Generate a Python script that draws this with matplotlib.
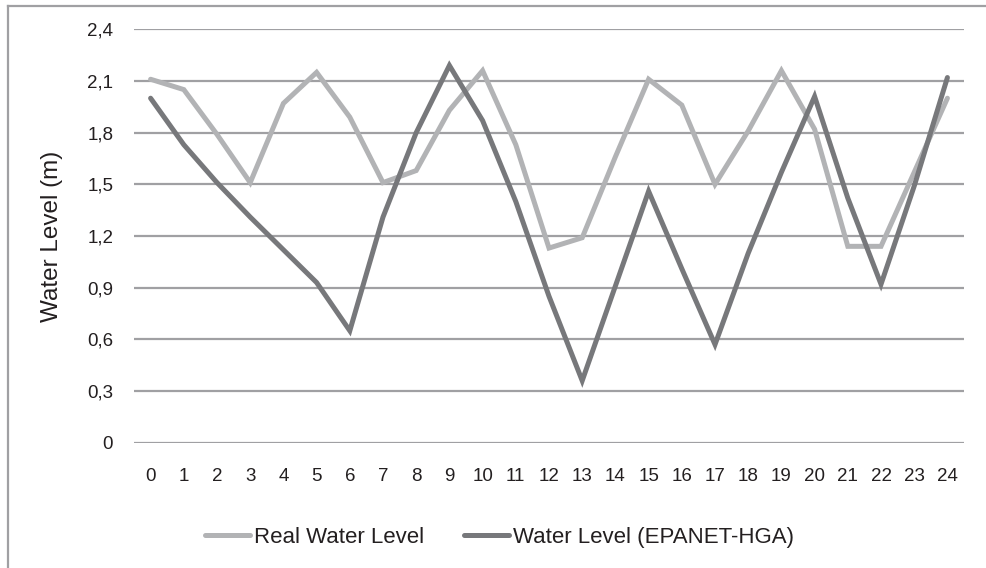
import numpy as np
import matplotlib
matplotlib.use("Agg")
import matplotlib.pyplot as plt
from matplotlib.lines import Line2D

plt.rcParams["font.family"] = ["Liberation Sans", "DejaVu Sans"]

# data
hours = list(range(25))
real_level = [2.11, 2.05, 1.79, 1.51, 1.97, 2.15, 1.89, 1.51, 1.58, 1.93,
              2.16, 1.73, 1.13, 1.19, 1.66, 2.11, 1.96, 1.50, 1.81, 2.16,
              1.82, 1.14, 1.14, 1.57, 2.00]
epanet_level = [2.00, 1.73, 1.51, 1.31, 1.12, 0.93, 0.65, 1.31, 1.80, 2.19,
                1.87, 1.40, 0.85, 0.36, 0.91, 1.46, 1.01, 0.57, 1.10, 1.57,
                2.01, 1.42, 0.92, 1.49, 2.12]
yticks = [0, 0.3, 0.6, 0.9, 1.2, 1.5, 1.8, 2.1, 2.4]
ytick_labels = ["0", "0,3", "0,6", "0,9", "1,2", "1,5", "1,8", "2,1", "2,4"]

text_col = "#231f20"
grid_col = "#a0a0a3"

fig = plt.figure(figsize=(9.86, 5.68), dpi=100)
ax = fig.add_axes([0.1359, 0.2206, 0.8418, 0.7278])

ax.set_yticks(yticks)
for y in yticks:
    ax.axhline(y, color=grid_col, lw=1.6, zorder=1)

ax.plot(hours, real_level, color="#b2b3b5", lw=3.6, solid_capstyle="round",
        solid_joinstyle="miter", label="Real Water Level", zorder=3)
ax.plot(hours, epanet_level, color="#77787b", lw=3.6, solid_capstyle="round",
        solid_joinstyle="miter", label="Water Level (EPANET-HGA)", zorder=4)

ax.set_xlim(-0.5, 24.5)
ax.set_ylim(0, 2.4)
ax.set_xticks(hours)
ax.set_xticklabels([str(h) for h in hours])
ax.set_yticklabels(ytick_labels)
ax.tick_params(axis="y", length=0, pad=15, labelsize=13.5, labelcolor=text_col)
ax.tick_params(axis="x", length=0, pad=18, labelsize=13.5, labelcolor=text_col)
for s in ax.spines.values():
    s.set_visible(False)

ax.set_ylabel("Water Level (m)", fontsize=17.5, color=text_col)
ax.yaxis.label.set_va("center")
ax.yaxis.set_label_coords(-0.0988, 0.5)

fig.legend(loc="center", bbox_to_anchor=(0.507, 0.054), ncol=2, frameon=False,
           fontsize=16, handlelength=2.0, handletextpad=0.2, columnspacing=1.8,
           labelcolor=text_col)

# outer border of the chart area (only left and top edges are inside the image)
bx = 8 / 986
by = 1 - 6 / 568
fig.add_artist(Line2D([bx, bx], [-0.02, by], color=grid_col, lw=1.6,
                      transform=fig.transFigure))
fig.add_artist(Line2D([bx, 1.02], [by, by], color=grid_col, lw=1.6,
                      transform=fig.transFigure))

fig.savefig("out.png", dpi=100)
